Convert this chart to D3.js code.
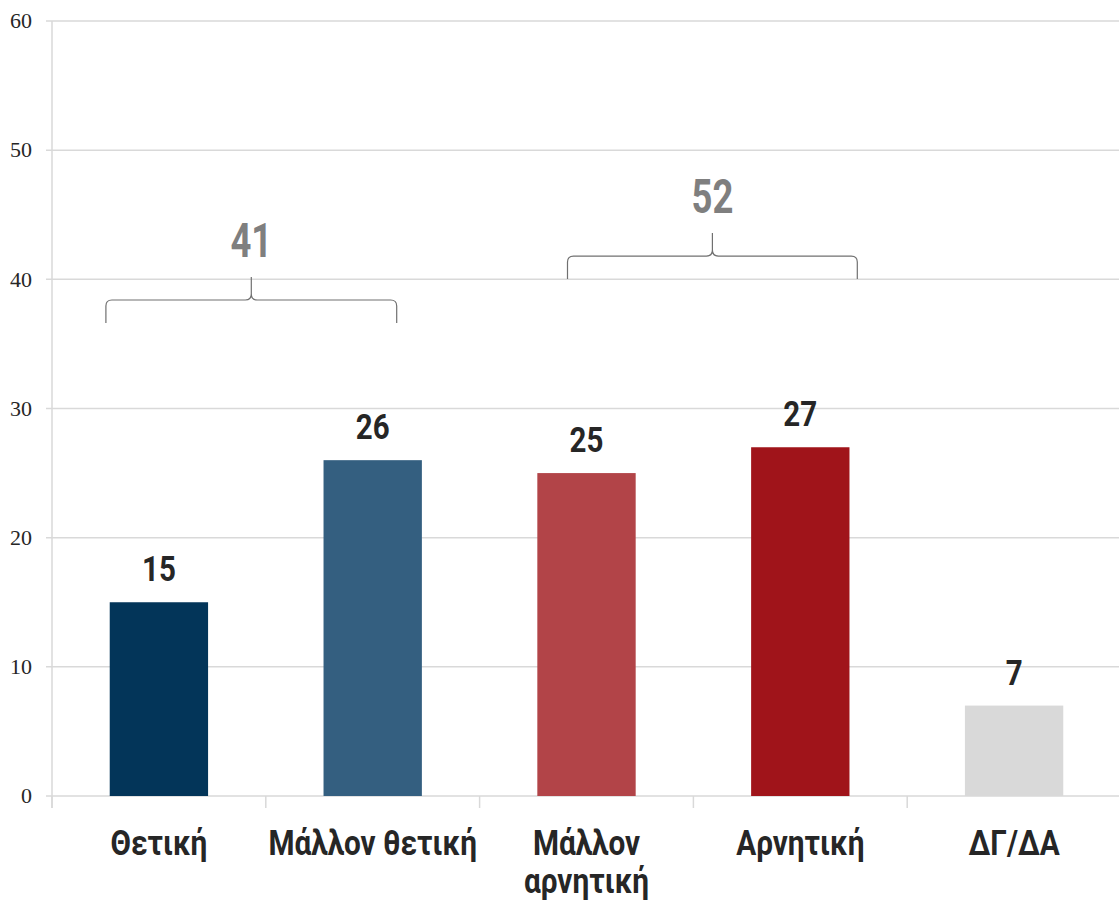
<!DOCTYPE html>
<html>
  <head>
    <script src="https://cdnjs.cloudflare.com/ajax/libs/d3/7.8.5/d3.min.js"></script>
    <meta charset="utf-8">
    <title>Chart</title>
    <style>
      body { margin: 0; background: #fff; }
    </style>
  </head>
  <body>
    <script>
      var categories = ["Θετική", "Μάλλον θετική", "Μάλλον αρνητική", "Αρνητική", "ΔΓ/ΔΑ"];
      var labelLines = [["Θετική"], ["Μάλλον θετική"], ["Μάλλον", "αρνητική"], ["Αρνητική"], ["ΔΓ/ΔΑ"]];
      var values = [15, 26, 25, 27, 7];
      var colors = ["#033559", "#345f80", "#b24448", "#a0141a", "#d9d9d9"];
      var yTicks = [0, 10, 20, 30, 40, 50, 60];
      // bracket groups: label, first and last category, height of the bracket line
      var groupLabels = ["41", "52"];
      var groupFrom = [0, 2];
      var groupTo = [1, 3];
      var groupLevel = [38.4, 41.8];

      var width = 1119, height = 904;
      var margin = {left: 52, right: -2, top: 21, bottom: 108};
      var boldFont = "Roboto, 'Liberation Sans', sans-serif";
      var narrow = 0.82; // squeeze to look like a narrow bold face

      var svg = d3.select("body").append("svg")
                  .attr("width", width)
                  .attr("height", height);

      var x = d3.scaleBand()
                .domain(categories)
                .range([margin.left, width - margin.right])
                .paddingInner(0.54)
                .paddingOuter(0.27);

      var y = d3.scaleLinear()
                .domain([0, 60])
                .range([height - margin.bottom, margin.top]);

      function cx(i) { return x(categories[i]) + x.bandwidth() / 2; }

      // gridlines
      svg.append("g")
         .selectAll("line")
         .data(yTicks)
         .enter()
         .append("line")
         .attr("x1", margin.left - 6)
         .attr("x2", width)
         .attr("y1", function (d) { return y(d); })
         .attr("y2", function (d) { return y(d); })
         .style("stroke", "#d9d9d9")
         .style("stroke-width", 1.5);

      // y axis line
      svg.append("line")
         .attr("x1", margin.left).attr("x2", margin.left)
         .attr("y1", y(60)).attr("y2", y(0) + 12)
         .style("stroke", "#d9d9d9")
         .style("stroke-width", 1.5);

      // y labels
      svg.append("g")
         .selectAll("text")
         .data(yTicks)
         .enter()
         .append("text")
         .attr("x", 32)
         .attr("y", function (d) { return y(d); })
         .attr("dy", "0.33em")
         .attr("text-anchor", "end")
         .style("font-family", "'Liberation Serif', serif")
         .style("font-size", "22px")
         .style("fill", "#262626")
         .text(function (d) { return d; });

      // x category tick marks
      var step = x.step();
      var bounds = categories.map(function (c, i) { return cx(i) - step / 2; });
      bounds.push(cx(categories.length - 1) + step / 2);
      svg.append("g")
         .selectAll("line")
         .data(bounds)
         .enter()
         .append("line")
         .attr("x1", function (d) { return d; })
         .attr("x2", function (d) { return d; })
         .attr("y1", y(0))
         .attr("y2", y(0) + 12)
         .style("stroke", "#d9d9d9")
         .style("stroke-width", 1.5);

      // bars
      svg.append("g")
         .selectAll("rect")
         .data(values)
         .enter()
         .append("rect")
         .attr("x", function (d, i) { return x(categories[i]); })
         .attr("y", function (d) { return y(d); })
         .attr("width", x.bandwidth())
         .attr("height", function (d) { return y(0) - y(d); })
         .style("fill", function (d, i) { return colors[i]; });

      // value labels
      svg.append("g")
         .selectAll("text")
         .data(values)
         .enter()
         .append("text")
         .attr("transform", function (d, i) {
           return "translate(" + cx(i) + "," + (y(d) - 21) + ") scale(" + narrow + ",1)";
         })
         .attr("text-anchor", "middle")
         .style("font-family", boldFont)
         .style("font-weight", "bold")
         .style("font-size", "36px")
         .style("fill", "#262626")
         .text(function (d) { return d; });

      // category labels
      var catText = svg.append("g")
         .selectAll("text")
         .data(labelLines)
         .enter()
         .append("text")
         .attr("transform", function (d, i) {
           return "translate(" + cx(i) + ",855) scale(0.85,1)";
         })
         .attr("text-anchor", "middle")
         .style("font-family", boldFont)
         .style("font-weight", "bold")
         .style("font-size", "35px")
         .style("fill", "#262626");
      catText.selectAll("tspan")
         .data(function (d) { return d; })
         .enter()
         .append("tspan")
         .attr("x", 0)
         .attr("dy", function (d, i) { return i === 0 ? 0 : 38; })
         .text(function (d) { return d; });

      // brackets
      var leftOff = [-53, -19], rightOff = [24, 57];
      groupLabels.forEach(function (lab, g) {
        var x0 = cx(groupFrom[g]) + leftOff[g];
        var x1 = cx(groupTo[g]) + rightOff[g];
        var xm = (x0 + x1) / 2;
        var yl = y(groupLevel[g]);
        var r = 6;
        var p = d3.path();
        p.moveTo(x0, yl + 23);
        p.lineTo(x0, yl + r);
        p.quadraticCurveTo(x0, yl, x0 + r, yl);
        p.lineTo(xm - r, yl);
        p.quadraticCurveTo(xm, yl, xm, yl - r);
        p.lineTo(xm, yl - 23);
        p.moveTo(xm, yl - r);
        p.quadraticCurveTo(xm, yl, xm + r, yl);
        p.lineTo(x1 - r, yl);
        p.quadraticCurveTo(x1, yl, x1, yl + r);
        p.lineTo(x1, yl + 23);
        svg.append("path")
           .attr("d", p.toString())
           .style("fill", "none")
           .style("stroke", "#707070")
           .style("stroke-width", 1.2);
        svg.append("text")
           .attr("transform", "translate(" + xm + "," + (yl - 43) + ") scale(0.76,1)")
           .attr("text-anchor", "middle")
           .style("font-family", boldFont)
           .style("font-weight", "bold")
           .style("font-size", "48px")
           .style("fill", "#7f7f7f")
           .text(lab);
      });
    </script>
  </body>
</html>
